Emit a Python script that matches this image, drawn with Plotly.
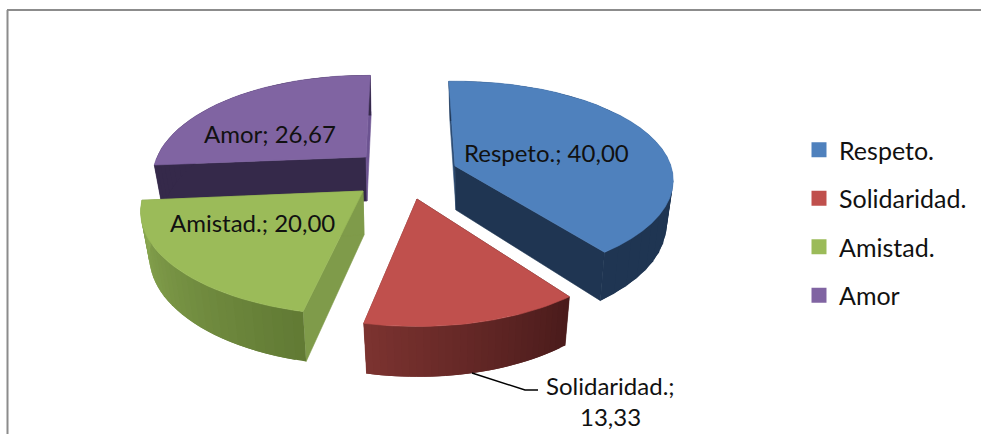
import math
import plotly.graph_objects as go

# ---- data ----
categories = ["Respeto.", "Solidaridad.", "Amistad.", "Amor"]
values = [40.00, 13.33, 20.00, 26.67]
colors = ["#4F81BD", "#C0504D", "#9BBB59", "#8064A2"]

FONT = "Lato, Carlito, Calibri, sans-serif"
TXT = "#111111"

# ---- per-slice 3D look (apex on the page, perspective, wall shades) ----
geom = {
    "Respeto.":     dict(ax=455, ay=166, R=216, B=97,  k=0.1435, rot=-1.9, wall=("#1F3552", "#1F3552"), cut_start="#2C4C74", cut_end="#1F3552"),
    "Solidaridad.": dict(ax=417, ay=199, R=215, B=102, k=0.20,   rot=-0.5, wall=("#7C3330", "#4A1B1B"), cut_start="#4A1B1B", cut_end="#7C3330"),
    "Amistad.":     dict(ax=363, ay=191, R=218, B=99.5, k=0.20,  rot=0.8,  wall=("#8BA952", "#617A34"), cut_start="#7F9B4A", cut_end="#7F9B4A"),
    "Amor":         dict(ax=366, ay=157, R=209, B=98,  k=0.20,   rot=1.4,  wall=("#35294A", "#35294A"), cut_start="#35294A", cut_end="#6C5391"),
}
DRAW_ORDER = ["Amor", "Respeto.", "Amistad.", "Solidaridad."]
H = 44


def project(theta, g, bottom=False):
    X, Y = math.sin(theta), math.cos(theta)
    w = 1 + g["k"] * Y
    if bottom:
        return g["ax"] + 1 + 0.965 * g["R"] * X / w, g["ay"] + H - 1.05 * g["B"] * Y / w
    return g["ax"] + g["R"] * X / w, g["ay"] - g["B"] * Y / w


def apex(g, bottom=False):
    return (g["ax"] + 1, g["ay"] + H) if bottom else (g["ax"], g["ay"])


def mix(c0, c1, t):
    a = [int(c0[i:i + 2], 16) for i in (1, 3, 5)]
    b = [int(c1[i:i + 2], 16) for i in (1, 3, 5)]
    return "#%02x%02x%02x" % tuple(round(a[i] + (b[i] - a[i]) * t) for i in range(3))


def poly(fig, pts, color, lw=0.6):
    xs = [p[0] for p in pts] + [pts[0][0]]
    ys = [p[1] for p in pts] + [pts[0][1]]
    fig.add_trace(go.Scatter(x=xs, y=ys, mode="lines", fill="toself", fillcolor=color,
                             line=dict(color=color, width=lw), hoverinfo="skip", showlegend=False))


total = sum(values)
spans = {}
acc = 0.0
for name, v in zip(categories, values):
    r = math.radians(geom[name]["rot"])
    a0 = acc / total * 2 * math.pi + r
    acc += v
    spans[name] = (a0, acc / total * 2 * math.pi + r)

fig = go.Figure()
N = 30
for name in DRAW_ORDER:
    g = geom[name]
    a0, a1 = spans[name]
    col = colors[categories.index(name)]
    ts = [a0 + (a1 - a0) * i / N for i in range(N + 1)]
    # the two cut faces
    for th, c in ((a0, g["cut_start"]), (a1, g["cut_end"])):
        poly(fig, [apex(g), project(th, g), project(th, g, True), apex(g, True)], c)
    # outer wall, as shaded strips, drawn so each one covers the seam of the last
    for i in range(N):
        shade = mix(g["wall"][1], g["wall"][0], (i + 0.5) / N)
        j = min(i + 2, N)
        poly(fig, [project(ts[i], g), project(ts[j], g),
                   project(ts[j], g, True), project(ts[i], g, True)], shade, lw=0)
    # top face
    poly(fig, [apex(g)] + [project(t, g) for t in ts], col)

# legend entries
for name, col in zip(categories, colors):
    fig.add_trace(go.Scatter(x=[None], y=[None], mode="markers", name=name, legendgroup=name,
                             marker=dict(symbol="square", size=15, color=col)))

# data labels
def label(name):
    v = values[categories.index(name)]
    return name + "; " + f"{v:.2f}".replace(".", ",")

ann = [(546, 152, label("Respeto.")),
       (270, 133, label("Amor")),
       (252, 222, label("Amistad.")),
       (610, 385, label("Solidaridad.").split(" ")[0]),
       (610, 416, label("Solidaridad.").split(" ")[1])]
annotations = [dict(x=x, y=y, text=t, showarrow=False, xanchor="center", yanchor="middle",
                    font=dict(family=FONT, size=24, color=TXT)) for x, y, t in ann]

fig.update_layout(
    width=981, height=434, autosize=False,
    margin=dict(l=0, r=0, t=0, b=0),
    paper_bgcolor="white", plot_bgcolor="white",
    xaxis=dict(range=[0, 981], visible=False, fixedrange=True),
    yaxis=dict(range=[434, 0], visible=False, fixedrange=True),
    showlegend=True,
    legend=dict(x=799 / 981, y=1 - 127 / 434, xanchor="left", yanchor="top", tracegroupgap=13,
                font=dict(family=FONT, size=25, color=TXT), bgcolor="rgba(0,0,0,0)",
                itemclick=False, itemdoubleclick=False),
    annotations=annotations,
    shapes=[
        dict(type="line", xref="x", yref="y", x0=7, y0=10, x1=981, y1=10, line=dict(color="#8C8C8C", width=2)),
        dict(type="line", xref="x", yref="y", x0=7.5, y0=10, x1=7.5, y1=434, line=dict(color="#8C8C8C", width=2)),
        dict(type="path", xref="x", yref="y", path="M 472 373 L 525 390 L 538 390",
             line=dict(color="#000000", width=1.5)),
    ],
)

fig.write_html("out.html", config={"displayModeBar": False},
               post_script="document.body.style.margin='0';window.dispatchEvent(new Event('resize'));")
